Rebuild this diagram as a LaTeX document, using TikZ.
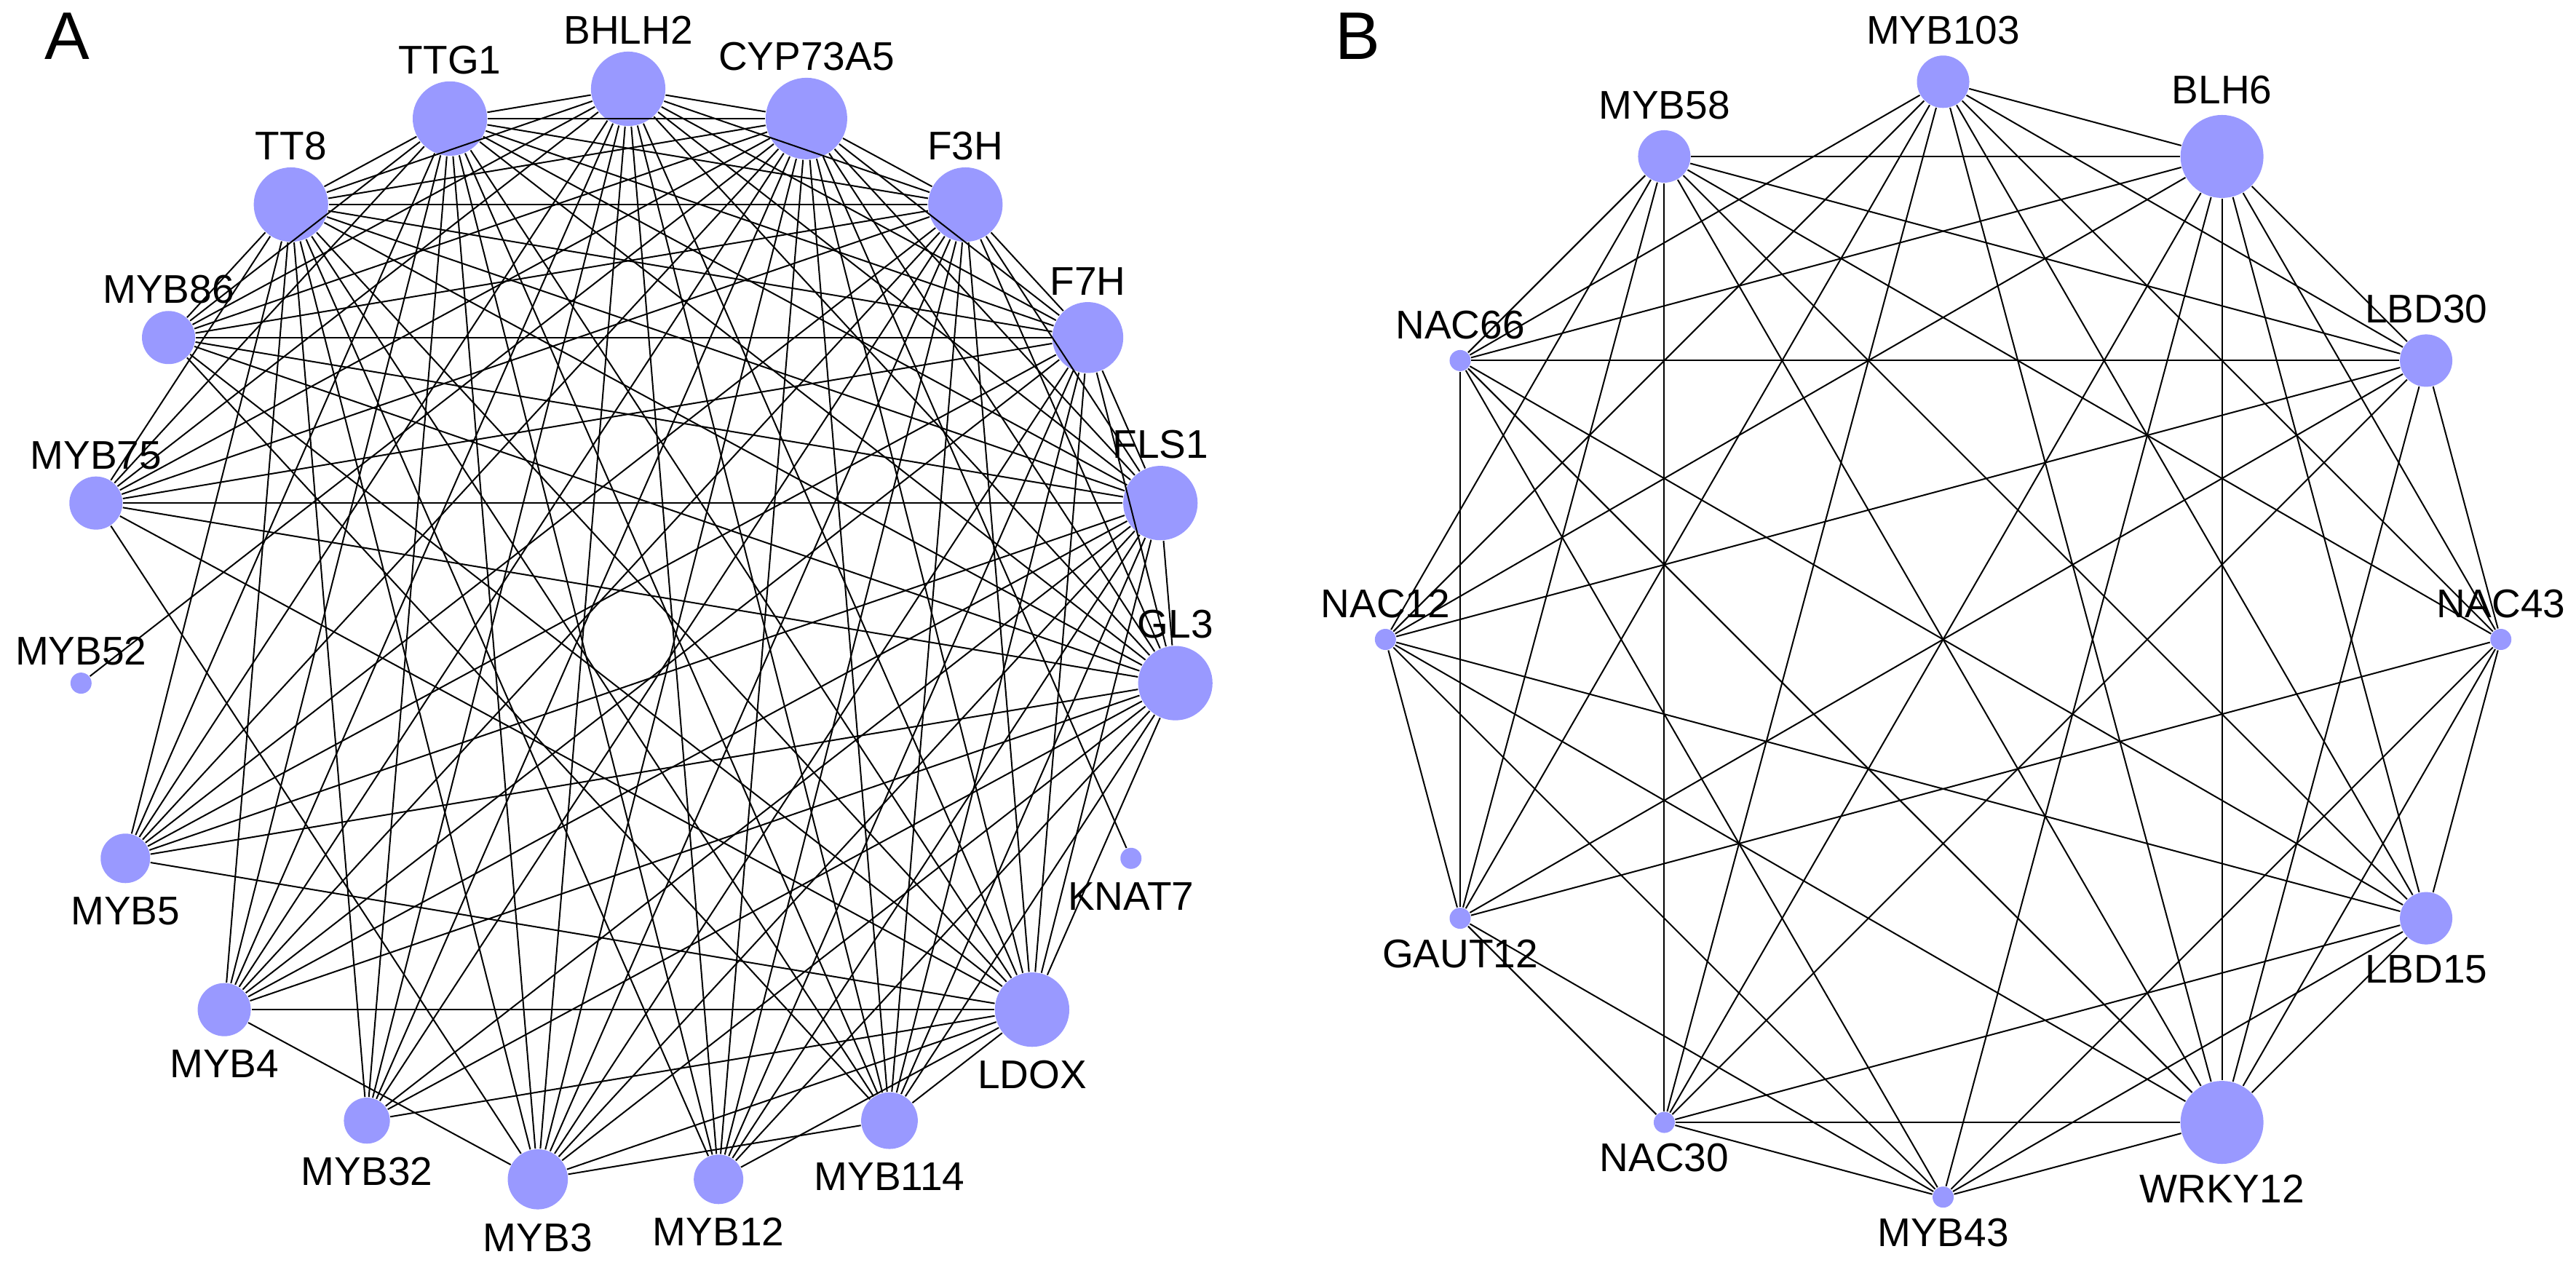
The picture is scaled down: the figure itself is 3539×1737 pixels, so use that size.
\documentclass[tikz,border=0pt]{standalone}
\usepackage{fontspec}
\setmainfont{Liberation Sans}
\usetikzlibrary{positioning}

\definecolor{genefill}{RGB}{153,153,255}

\tikzset{
	gene/.style={circle, fill=genefill, inner sep=0pt, minimum size=#1*0.4pt},
	genename/.style={inner sep=0pt, font=\fontsize{11}{13}\selectfont},
	panel/.style={inner sep=0pt, font=\fontsize{18.5}{22}\selectfont},
	link/.style={line width=0.4pt},
}

\begin{document}
\begin{tikzpicture}[x=0.2pt, y=0.2pt]
	\useasboundingbox (0,0) rectangle (3539,1737);

	% Panel letters
	\node [panel] (A) at (92,1687)   {A};
	\node [panel] (B) at (1865,1687) {B};

	% Panel A: 19 genes on a circle, clockwise from the top
	\begin{scope}[shift={(863,860.7)}]
	\node [gene=51.1] (BHLH2)   at (90.000:754.3)   {};
	\node [gene=56.0] (CYP73A5) at (71.053:754.3)   {};
	\node [gene=51.1] (F3H)     at (52.105:754.3)   {};
	\node [gene=48.7] (F7H)     at (33.158:754.3)   {};
	\node [gene=51.1] (FLS1)    at (14.211:754.3)   {};
	\node [gene=51.1] (GL3)     at (-4.737:754.3)   {};
	\node [gene=14.5] (KNAT7)   at (-23.684:754.3)  {};
	\node [gene=51.1] (LDOX)    at (-42.632:754.3)  {};
	\node [gene=38.9] (MYB114)  at (-61.579:754.3)  {};
	\node [gene=34.0] (MYB12)   at (-80.526:754.3)  {};
	\node [gene=41.3] (MYB3)    at (-99.474:754.3)  {};
	\node [gene=31.6] (MYB32)   at (-118.421:754.3) {};
	\node [gene=36.5] (MYB4)    at (-137.368:754.3) {};
	\node [gene=34.0] (MYB5)    at (-156.316:754.3) {};
	\node [gene=14.5] (MYB52)   at (-175.263:754.3) {};
	\node [gene=36.5] (MYB75)   at (165.789:754.3)  {};
	\node [gene=36.5] (MYB86)   at (146.842:754.3)  {};
	\node [gene=51.1] (TT8)     at (127.895:754.3)  {};
	\node [gene=51.1] (TTG1)    at (108.947:754.3)  {};

	% Names of panel A
	\node [genename, above=1.6pt of BHLH2]   (BHLH2-t)   {BHLH2};
	\node [genename, above=1.6pt of CYP73A5] (CYP73A5-t) {CYP73A5};
	\node [genename, above=1.6pt of F3H]     (F3H-t)     {F3H};
	\node [genename, above=1.6pt of F7H]     (F7H-t)     {F7H};
	\node [genename, above=1.6pt of FLS1]    (FLS1-t)    {FLS1};
	\node [genename, above=1.6pt of GL3]     (GL3-t)     {GL3};
	\node [genename, below=3.4pt of KNAT7]   (KNAT7-t)   {KNAT7};
	\node [genename, below=3.4pt of LDOX]    (LDOX-t)    {LDOX};
	\node [genename, below=3.4pt of MYB114]  (MYB114-t)  {MYB114};
	\node [genename, below=3.4pt of MYB12]   (MYB12-t)   {MYB12};
	\node [genename, below=3.4pt of MYB3]    (MYB3-t)    {MYB3};
	\node [genename, below=3.4pt of MYB32]   (MYB32-t)   {MYB32};
	\node [genename, below=3.4pt of MYB4]    (MYB4-t)    {MYB4};
	\node [genename, below=3.4pt of MYB5]    (MYB5-t)    {MYB5};
	\node [genename, above=1.6pt of MYB52]   (MYB52-t)   {MYB52};
	\node [genename, above=1.6pt of MYB75]   (MYB75-t)   {MYB75};
	\node [genename, above=1.6pt of MYB86]   (MYB86-t)   {MYB86};
	\node [genename, above=1.6pt of TT8]     (TT8-t)     {TT8};
	\node [genename, above=1.6pt of TTG1]    (TTG1-t)    {TTG1};

	% Links of panel A
	\path [link] (BHLH2) edge (CYP73A5) edge (F3H) edge (F7H) edge (FLS1) edge (GL3)
		edge (LDOX) edge (TT8) edge (TTG1) edge (MYB114) edge (MYB12) edge (MYB3)
		edge (MYB32) edge (MYB4) edge (MYB5) edge (MYB75) edge (MYB86);
	\path [link] (CYP73A5) edge (F3H) edge (F7H) edge (FLS1) edge (GL3) edge (LDOX)
		edge (TT8) edge (TTG1) edge (MYB114) edge (MYB12) edge (MYB3) edge (MYB32)
		edge (MYB4) edge (MYB5) edge (MYB75) edge (MYB86) edge (KNAT7) edge (MYB52);
	\path [link] (F3H) edge (F7H) edge (FLS1) edge (GL3) edge (LDOX) edge (TT8)
		edge (TTG1) edge (MYB114) edge (MYB12) edge (MYB3) edge (MYB32) edge (MYB4)
		edge (MYB5) edge (MYB75) edge (MYB86);
	\path [link] (FLS1) edge (F7H) edge (GL3) edge (LDOX) edge (TT8) edge (TTG1)
		edge (MYB114) edge (MYB12) edge (MYB3) edge (MYB32) edge (MYB4) edge (MYB5)
		edge (MYB75) edge (MYB86);
	\path [link] (GL3) edge (F7H) edge (LDOX) edge (TT8) edge (TTG1) edge (MYB114)
		edge (MYB12) edge (MYB3) edge (MYB32) edge (MYB4) edge (MYB5) edge (MYB75)
		edge (MYB86);
	\path [link] (LDOX) edge (F7H) edge (TT8) edge (TTG1) edge (MYB114) edge (MYB12)
		edge (MYB3) edge (MYB32) edge (MYB4) edge (MYB5) edge (MYB75) edge (MYB86);
	\path [link] (TT8) edge (F7H) edge (TTG1) edge (MYB114) edge (MYB12) edge (MYB3)
		edge (MYB32) edge (MYB4) edge (MYB5) edge (MYB75) edge (MYB86);
	\path [link] (TTG1) edge (F7H) edge (MYB114) edge (MYB12) edge (MYB3) edge (MYB32)
		edge (MYB4) edge (MYB5) edge (MYB75) edge (MYB86);
	\path [link] (F7H) edge (MYB114) edge (MYB12) edge (MYB3) edge (MYB4) edge (MYB5)
		edge (MYB75) edge (MYB86);
	\path [link] (MYB3) edge (MYB114) edge (MYB4) edge (MYB75);
	\path [link] (MYB114) edge (MYB86);
	\end{scope}

	% Panel B: 12 genes on a circle, clockwise from the top
	\begin{scope}[shift={(2669.5,858.5)}]
	\node [gene=36]   (MYB103) at (90:766.2)   {};
	\node [gene=57]   (BLH6)   at (60:766.2)   {};
	\node [gene=36]   (LBD30)  at (30:766.2)   {};
	\node [gene=14.5] (NAC43)  at (0:766.2)    {};
	\node [gene=36]   (LBD15)  at (-30:766.2)  {};
	\node [gene=57]   (WRKY12) at (-60:766.2)  {};
	\node [gene=14.5] (MYB43)  at (-90:766.2)  {};
	\node [gene=14.5] (NAC30)  at (-120:766.2) {};
	\node [gene=14.5] (GAUT12) at (-150:766.2) {};
	\node [gene=14.5] (NAC12)  at (180:766.2)  {};
	\node [gene=14.5] (NAC66)  at (150:766.2)  {};
	\node [gene=36]   (MYB58)  at (120:766.2)  {};

	% Names of panel B
	\node [genename, above=2.6pt of MYB103] (MYB103-t) {MYB103};
	\node [genename, above=2.6pt of BLH6]   (BLH6-t)   {BLH6};
	\node [genename, above=2.6pt of LBD30]  (LBD30-t)  {LBD30};
	\node [genename, above=2.6pt of NAC43]  (NAC43-t)  {NAC43};
	\node [genename, below=2.6pt of LBD15]  (LBD15-t)  {LBD15};
	\node [genename, below=2.6pt of WRKY12] (WRKY12-t) {WRKY12};
	\node [genename, below=2.6pt of MYB43]  (MYB43-t)  {MYB43};
	\node [genename, below=2.6pt of NAC30]  (NAC30-t)  {NAC30};
	\node [genename, below=2.6pt of GAUT12] (GAUT12-t) {GAUT12};
	\node [genename, above=2.6pt of NAC12]  (NAC12-t)  {NAC12};
	\node [genename, above=2.6pt of NAC66]  (NAC66-t)  {NAC66};
	\node [genename, above=2.6pt of MYB58]  (MYB58-t)  {MYB58};

	% Links of panel B
	\path [link] (MYB103) edge (BLH6) edge (LBD30) edge (NAC43) edge (LBD15) edge (WRKY12)
		edge (NAC30) edge (GAUT12) edge (NAC12) edge (NAC66);
	\path [link] (BLH6) edge (LBD30) edge (NAC43) edge (LBD15) edge (WRKY12) edge (MYB43)
		edge (NAC30) edge (NAC12) edge (NAC66) edge (MYB58);
	\path [link] (LBD30) edge (NAC43) edge (WRKY12) edge (NAC30) edge (GAUT12) edge (NAC12)
		edge (NAC66) edge (MYB58);
	\path [link] (NAC43) edge (LBD15) edge (WRKY12) edge (MYB43) edge (GAUT12) edge (MYB58);
	\path [link] (LBD15) edge (WRKY12) edge (MYB43) edge (NAC30) edge (NAC12) edge (NAC66)
		edge (MYB58);
	\path [link] (WRKY12) edge (MYB43) edge (NAC30) edge (NAC12) edge (NAC66) edge (MYB58);
	\path [link] (MYB43) edge (NAC30) edge (GAUT12) edge (NAC12) edge (NAC66);
	\path [link] (NAC30) edge (GAUT12) edge (MYB58);
	\path [link] (GAUT12) edge (NAC12) edge (NAC66) edge (MYB58);
	\path [link] (NAC12) edge (MYB58);
	\path [link] (NAC66) edge (MYB58);
	\end{scope}
\end{tikzpicture}
\end{document}
